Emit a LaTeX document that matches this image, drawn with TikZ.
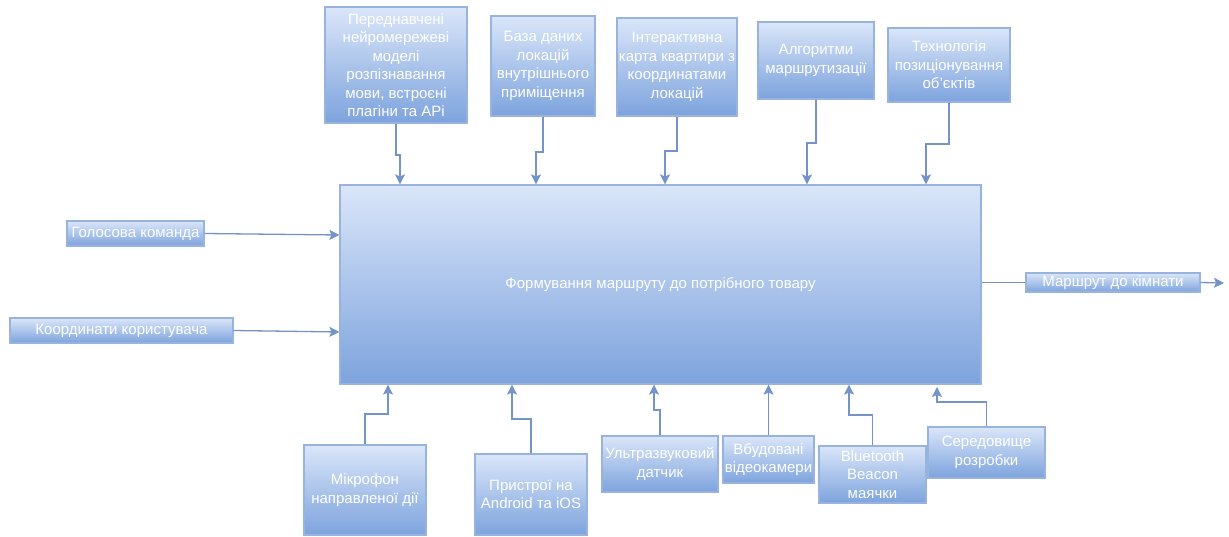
\documentclass[tikz,border=0pt]{standalone}
\usepackage{fontspec}
\setmainfont{Liberation Sans}
\usetikzlibrary{arrows.meta}
\definecolor{boxtop}{HTML}{DAE6F9}
\definecolor{boxbot}{HTML}{7DA3DD}
\definecolor{boxedge}{HTML}{98B4DE}
\definecolor{linec}{HTML}{7393C9}
\begin{document}
\begin{tikzpicture}[x=1pt,y=-1pt,
  blk/.style={draw=boxedge, line width=1.2pt, top color=boxtop, bottom color=boxbot,
    inner sep=0pt, align=center, text=white,
    font=\fontsize{15}{18.5}\selectfont},
  conn/.style={draw=linec, line width=1.3pt, -{Stealth[length=10pt,width=10pt,inset=2pt]}}]
\useasboundingbox (0,0) rectangle (1229,537);
\fill[white] (0,0) rectangle (1229,537);

% central process block
\node[blk, minimum width=641pt, minimum height=199pt] (main) at (660.5,284.5)
  {Формування маршруту до потрібного товару};

% resources above
\node[blk, minimum width=142pt, minimum height=116pt] (p1) at (396,65)
  {Переднавчені\\нейромережеві\\моделі\\розпізнавання\\мови, встроєні\\плагіни та APi};
\node[blk, minimum width=104pt, minimum height=100pt] (p2) at (543,66)
  {База даних\\локацій\\внутрішнього\\приміщення};
\node[blk, minimum width=120pt, minimum height=98pt] (p3) at (677,67)
  {Інтерактивна\\карта квартири з\\координатами\\локацій};
\node[blk, minimum width=116pt, minimum height=77pt] (p4) at (816,60.5)
  {Алгоритми\\маршрутизації};
\node[blk, minimum width=122pt, minimum height=74pt] (p5) at (949,65)
  {Технологія\\позиціонування\\об'єктів};

% inputs on the left
\node[blk, minimum width=137pt, minimum height=25pt] (l1) at (135.5,233.5)
  {Голосова команда};
\node[blk, minimum width=223pt, minimum height=25pt] (l2) at (121.5,330.5)
  {Координати користувача};

% output on the right
\node[blk, minimum width=174pt, minimum height=19pt] (r1) at (1113,282.5)
  {Маршрут до кімнати};

% means below
\node[blk, minimum width=122pt, minimum height=90pt] (b1) at (365,490)
  {Мікрофон\\направленої дії};
\node[blk, minimum width=112pt, minimum height=81pt] (b2) at (531,494.5)
  {Пристрої на\\Android та iOS};
\node[blk, minimum width=116pt, minimum height=56pt] (b3) at (660,464)
  {Ультразвуковий\\датчик};
\node[blk, minimum width=91pt, minimum height=47pt] (b4) at (768.5,459.5)
  {Вбудовані\\відеокамери};
\node[blk, minimum width=107pt, minimum height=57pt] (b5) at (872.5,474.5)
  {Bluetooth\\Beacon\\маячки};
\node[blk, minimum width=117pt, minimum height=51pt] (b6) at (986.5,452.5)
  {Середовище\\розробки};

% connectors from above
\draw[conn] (p1.south) |- (400,155) -- (400,0 |- main.north);
\draw[conn] (p2.south) |- (536,152) -- (536,0 |- main.north);
\draw[conn] (p3.south) |- (665,151) -- (665,0 |- main.north);
\draw[conn] (p4.south) |- (807,143) -- (807,0 |- main.north);
\draw[conn] (p5.south) |- (926,144) -- (926,0 |- main.north);

% connectors from the left
\draw[conn] (l1.east) -- (main.west |- 0,235);
\draw[conn] (l2.east) -- (main.west |- 0,332);

% output connectors
\draw[draw=linec, line width=1.3pt] (main.east |- r1.west) -- (r1.west);
\coordinate (outend) at (1224,283);
\draw[conn] (r1.east) -- (outend);

% connectors from below
\draw[conn] (b1.north) |- (388,414) -- (388,0 |- main.south);
\draw[conn] (b2.north) |- (512,419) -- (512,0 |- main.south);
\draw[conn] (b3.north) |- (654,410) -- (654,0 |- main.south);
\draw[conn] (b4.north) -- (768.5,0 |- main.south);
\draw[conn] (b5.north) |- (849,415) -- (849,0 |- main.south);
\draw[conn] (b6.north) |- (937,402) -- (937,387);
\end{tikzpicture}
\end{document}
